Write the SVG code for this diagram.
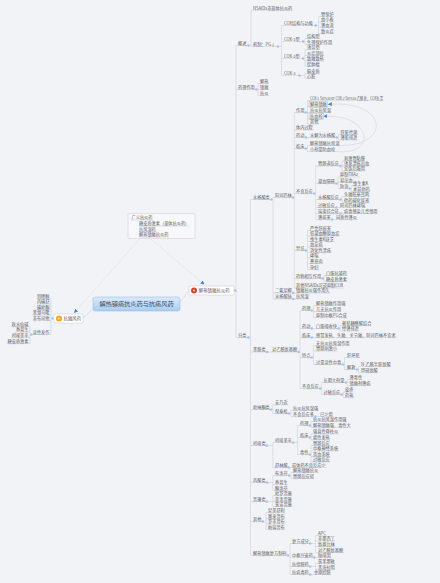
<svg xmlns="http://www.w3.org/2000/svg" xmlns:xlink="http://www.w3.org/1999/xlink" width="440" height="583" viewBox="0 0 440 583">
<defs>
<style>
text{font-family:"Noto Sans CJK SC","Noto Sans",sans-serif;font-size:4.2px;fill:#5a5a5a}
.u{stroke:#c3c7cf;stroke-width:.45;fill:none}
#connectors path{stroke:#c3c7cf;stroke-width:.45;fill:none}
.main{stroke:#b6bac4;stroke-width:.6;fill:none}
.rel{stroke:#4a90e2;stroke-width:.7;fill:none;stroke-dasharray:.9 .7}
.rel2{stroke:#5d9de4;stroke-width:.6;fill:none}
.tg{fill:#a6c5ec}
.lft text{text-anchor:end}
.hl{fill:none;stroke:#8fa3bd;stroke-width:.35}
</style>
<circle id="t" class="tg" r="1.3"/>
<marker id="ah" viewBox="0 0 6 6" refX="5" refY="3" markerWidth="4" markerHeight="4" orient="auto" markerUnits="userSpaceOnUse"><path d="M0 0L6 3L0 6z" fill="#3f86dc"/></marker>
<linearGradient id="cg" x1="0" y1="0" x2="0" y2="1"><stop offset="0" stop-color="#d9eafc"/><stop offset="1" stop-color="#a9cdf2"/></linearGradient>
</defs>
<rect width="440" height="583" fill="#f2f3f7"/>

<g id="connectors">
<path class="main" d="M180 302.5L189 290.5M93 309L83 318"/>
<path d="M234 290.5H236M236 45.5V337.5M236 45.5H238M236 89.5H238M236 337.5H238"/>
<path d="M246.5 45.5H251M251 10.5V46.5M251 10.5H253M251 46.5H253"/>
<path d="M275.5 46.5H281.5M281.5 25.5V75.5M281.5 25.5H284M281.5 41.5H284M281.5 58.5H284M281.5 75.5H284"/>
<path d="M313.5 25.5H318.5M318.5 16.5V33.5M318.5 16.5H321M318.5 22H321M318.5 27.5H321M318.5 33.5H321"/>
<path d="M301.2 41.5H305M305 38.5V44.5M305 38.5H307M305 44.5H307"/>
<path d="M301.2 58.5H305M305 49.5V66.5M305 49.5H307M305 55.5H307M305 61H307M305 66.5H307"/>
<path d="M297 75.5H305M305 73.5V78.5M305 73.5H307M305 78.5H307"/>
<path d="M254.8 89.5H258M258 83.5V95.5M258 83.5H260M258 89.5H260M258 95.5H260"/>
<path d="M246.4 337.5H250.5M250.5 199.5V555.5M250.5 199.5H253M250.5 352H253M250.5 409.5H253M250.5 445.5H253M250.5 482.5H253M250.5 501.5H253M250.5 521.5H253M250.5 555.5H253"/>
<path d="M269.8 199.5H273M273 197.5V299M273 197.5H275M273 293H275M273 299H275"/>
<path d="M291.8 197.5H294.3M294.3 112.5V288M294.3 112.5H296M294.3 130H296M294.3 137.5H296M294.3 148.5H296M294.3 193.5H296M294.3 250.5H296M294.3 278.5H296M294.3 288H296"/>
<path d="M304.4 112.5H307.5M307.5 100.5V124M307.5 100.5H310M307.5 106.5H310M307.5 112.5H310M307.5 118.5H310M307.5 124H310"/>
<path d="M304.4 137.5H310M335.2 137.5H338.5M338.5 134.5V140M338.5 134.5H340.5M338.5 140H340.5"/>
<path d="M304.4 148.5H307.5M307.5 145.5V151.5M307.5 145.5H310M307.5 151.5H310"/>
<path d="M312.8 193.5H315.7M315.7 166V219.5M315.7 166H318M315.7 183.5H318M315.7 199.5H318M315.7 207.5H318M315.7 213.5H318M315.7 219.5H318"/>
<path d="M339 166H342M342 161V171M342 161H344M342 166H344M342 171H344"/>
<path d="M334.8 183.5H338M338 177V188.5M338 177H340M338 182.5H340M338 188.5H340"/>
<path d="M348.4 188.5H351.3M351.3 186V191.5M351.3 186H353M351.3 191.5H353"/>
<path d="M339 199.5H342M342 196.5V202.5M342 196.5H344M342 202.5H344"/>
<path d="M334.8 207.5H340M339 213.5H344M330.6 219.5H336"/>
<path d="M304.4 250.5H307.5M307.5 230.5V269.5M307.5 230.5H310M307.5 236H310M307.5 241.5H310M307.5 247H310M307.5 252.5H310M307.5 258H310M307.5 263.5H310M307.5 269.5H310"/>
<path d="M321.2 278.5H324M324 275.5V281.5M324 275.5H326M324 281.5H326"/>
<path d="M291.8 293H296M291.8 299H296"/>
<path d="M265.6 352H272"/>
<path d="M297.2 352H300M300 310.5V388.5M300 310.5H302M300 328.5H302M300 337.5H302M300 357.5H302M300 388.5H302"/>
<path d="M310.4 310.5H313.5M313.5 305.5V317.5M313.5 305.5H316M313.5 311.5H316M313.5 317.5H316"/>
<path d="M310.4 328.5H316M337 328.5H340M340 325.5V331M340 325.5H342M340 331H342"/>
<path d="M310.4 337.5H316"/>
<path d="M310.4 357.5H313.5M313.5 345.5V364.5M313.5 345.5H316M313.5 351H316M313.5 364.5H316"/>
<path d="M341.2 364.5H344.5M344.5 357.5V369.5M344.5 357.5H347M344.5 369.5H347"/>
<path d="M355.4 369.5H358.5M358.5 366.5V372.5M358.5 366.5H361M358.5 372.5H361"/>
<path d="M318.8 388.5H321.7M321.7 382.5V394.5M321.7 382.5H323.5M321.7 394.5H323.5"/>
<path d="M344.5 382.5H347.5M347.5 379.5V385.5M347.5 379.5H349.5M347.5 385.5H349.5"/>
<path d="M340.3 394.5H343.2M343.2 392V397.5M343.2 392H345M343.2 397.5H345"/>
<path d="M269.8 409.5H272.8M272.8 404.5V413.5M272.8 404.5H275M272.8 413.5H275"/>
<path d="M287.6 413.5H291M291 410.5V416.5M291 410.5H293M291 416.5H293M314 416.5H320"/>
<path d="M265.6 445.5H272.8M272.8 442.5V467.5M272.8 442.5H275M272.8 467.5H275"/>
<path d="M291.8 442.5H297.5M297.5 425.5V454.5M297.5 425.5H300M297.5 437.5H300M297.5 454.5H300"/>
<path d="M308.4 425.5H311M311 421.5V427.5M311 421.5H313M311 427.5H313"/>
<path d="M308.4 437.5H311M311 434V440M311 434H313M311 440H313"/>
<path d="M308.4 454.5H311M311 445.5V462M311 445.5H313M311 451H313M311 456.5H313M311 462H313"/>
<path d="M287.6 467.5H292"/>
<path d="M265.6 482.5H272.8M272.8 475.5V490.5M272.8 475.5H275M272.8 484.5H275M272.8 490.5H275"/>
<path d="M287.6 475.5H291M291 472.5V478.5M291 472.5H293M291 478.5H293"/>
<path d="M265.6 501.5H272.8M272.8 495.5V506.5M272.8 495.5H275M272.8 501.5H275M272.8 506.5H275"/>
<path d="M261.4 521.5H266M266 512.5V529.5M266 512.5H268M266 518.5H268M266 524H268M266 529.5H268"/>
<path d="M286.6 555.5H290M290 543.5V574.5M290 543.5H292M290 557.5H292M290 566.5H292M290 574.5H292"/>
<path d="M308.8 543.5H315.5M315.5 535.5V552.5M315.5 535.5H318M315.5 541H318M315.5 546.5H318M315.5 552.5H318"/>
<path d="M313 557.5H318M308.8 566.5H315.5M315.5 563.5V569.5M315.5 563.5H318M315.5 569.5H318M308.8 574.5H314"/>
<path d="M54 318.5H51M51 298.5V334.5M51 298.5H49.5M51 304H49.5M51 309.5H49.5M51 315H49.5M51 320.5H49.5M51 334.5H49.5"/>
<path d="M32.2 334.5H30M30 326.5V343.5M30 326.5H28.5M30 332H28.5M30 337.5H28.5M30 343.5H28.5"/>
<path d="M133.5 220V237M133.5 226H139M133.5 231.5H139M133.5 237H139"/>
<path class="rel" d="M140 238.5L74.5 312.5" marker-end="url(#ah)"/>
<path class="rel" d="M150 238.5L204 284" marker-end="url(#ah)"/>
<path class="rel2" d="M340 145.5C392 146 388 100 328.5 104.3" marker-end="url(#ah)"/>
<path class="rel2" d="M336 151.5C378 156 372 114 324 116.3" marker-end="url(#ah)"/>
</g>

<g id="toggles">
<use href="#t" x="235.3" y="290.5"/><use href="#t" x="248.5" y="45.5"/><use href="#t" x="278" y="46.5"/><use href="#t" x="315.8" y="25.5"/>
<use href="#t" x="303" y="41.5"/><use href="#t" x="303" y="58.5"/><use href="#t" x="299.5" y="75.5"/><use href="#t" x="256.3" y="89.5"/>
<use href="#t" x="248.4" y="337.5"/><use href="#t" x="271.4" y="199.5"/><use href="#t" x="293" y="197.5"/><use href="#t" x="305.8" y="112.5"/>
<use href="#t" x="306" y="137.5"/><use href="#t" x="336.8" y="137.5"/><use href="#t" x="305.8" y="148.5"/><use href="#t" x="314.2" y="193.5"/>
<use href="#t" x="340.5" y="166"/><use href="#t" x="336.3" y="183.5"/><use href="#t" x="349.8" y="188.5"/><use href="#t" x="340.5" y="199.5"/>
<use href="#t" x="336.3" y="207.5"/><use href="#t" x="340.5" y="213.5"/><use href="#t" x="332.2" y="219.5"/><use href="#t" x="305.8" y="250.5"/>
<use href="#t" x="322.6" y="278.5"/><use href="#t" x="293.3" y="293"/><use href="#t" x="293.3" y="299"/><use href="#t" x="267.2" y="352"/>
<use href="#t" x="298.6" y="352"/><use href="#t" x="311.8" y="310.5"/><use href="#t" x="311.8" y="328.5"/><use href="#t" x="338.5" y="328.5"/>
<use href="#t" x="311.8" y="337.5"/><use href="#t" x="311.8" y="357.5"/><use href="#t" x="342.8" y="364.5"/><use href="#t" x="357" y="369.5"/>
<use href="#t" x="320.2" y="388.5"/><use href="#t" x="345.9" y="382.5"/><use href="#t" x="341.7" y="394.5"/>
<use href="#t" x="271.2" y="409.5"/><use href="#t" x="289" y="413.5"/><use href="#t" x="315.4" y="416.5"/><use href="#t" x="267" y="445.5"/>
<use href="#t" x="293.2" y="442.5"/><use href="#t" x="309.8" y="425.5"/><use href="#t" x="309.8" y="437.5"/><use href="#t" x="309.8" y="454.5"/>
<use href="#t" x="289" y="467.5"/><use href="#t" x="267" y="482.5"/><use href="#t" x="289" y="475.5"/><use href="#t" x="267" y="501.5"/>
<use href="#t" x="262.8" y="521.5"/><use href="#t" x="288" y="555.5"/><use href="#t" x="310.2" y="543.5"/><use href="#t" x="314.4" y="557.5"/>
<use href="#t" x="310.2" y="566.5"/><use href="#t" x="310.2" y="574.5"/><use href="#t" x="52.5" y="318.5"/><use href="#t" x="31.3" y="334.5"/>
</g>

<g id="central"><rect x="93" y="297" width="87" height="14" rx="2.5" fill="url(#cg)" stroke="#8db3dd" stroke-width=".5"/><text x="136.5" y="306.4" text-anchor="middle" style="font-size:6.2px;fill:#3d4b5e">解热镇痛抗炎药与抗痛风药</text></g>
<g id="node-jrzt"><rect x="189" y="286" width="45" height="9" rx="1.5" fill="#fff" stroke="#c4c6cc" stroke-width=".5"/><circle cx="194" cy="290.5" r="3" fill="#d8432f"/><circle cx="194" cy="290.5" r="1.1" fill="#f6c4bd"/><text x="198.8" y="292.1" style="font-size:4.4px">解热镇痛抗炎药</text></g>
<g id="node-ktfy"><rect x="54" y="314" width="29" height="9" rx="1.5" fill="#fff" stroke="#c4c6cc" stroke-width=".5"/><circle cx="59" cy="318.5" r="3" fill="#f2a81d"/><circle cx="59" cy="318.5" r="1.1" fill="#fbe0a6"/><text x="63.5" y="320.1" style="font-size:4.4px">抗痛风药</text></g>

<g id="node-gyky"><rect x="128" y="213.5" width="67" height="25" rx="1" fill="#f8f8fa" stroke="#c8cad0" stroke-width=".5"/><text x="131.5" y="219">广义抗炎药</text><path class="u" d="M131 220h22"/>
<text x="139" y="225">糖皮质激素（甾体抗炎药）</text><path class="u" d="M138.5 226h51.4"/>
<text x="139" y="230.5">抗风湿药</text><path class="u" d="M138.5 231.5h17.8"/>
<text x="139" y="236">解热镇痛抗炎药</text><path class="u" d="M138.5 237h30.4"/></g>

<g id="n-gs"><text x="238" y="44.5">概述</text><path class="u" d="M237.5 45.5h9.4"/></g>
<g id="n-ns"><text x="253" y="9.5">NSAIDs非甾体抗炎药</text><path class="u" d="M252.5 10.5h37.6"/></g>
<g id="n-jz"><text x="253" y="45.5">机制：PG↓</text><path class="u" d="M252.5 46.5h23.4"/></g>
<g id="n-cox"><text x="284" y="24.5">COX结构与功能</text><path class="u" d="M283.5 25.5h30.4"/></g>
<g id="n-cox-a"><text x="321" y="15.5">胃保护</text><path class="u" d="M320.5 16.5h13.6"/></g>
<g id="n-cox-b"><text x="321" y="21">血小板</text><path class="u" d="M320.5 22h13.6"/></g>
<g id="n-cox-c"><text x="321" y="26.5">肾血流</text><path class="u" d="M320.5 27.5h13.6"/></g>
<g id="n-cox-d"><text x="321" y="32.5">致炎症</text><path class="u" d="M320.5 33.5h13.6"/></g>
<g id="n-c1"><text x="284" y="40.5">COX-1型</text><path class="u" d="M283.5 41.5h18.2"/></g>
<g id="n-c1a"><text x="307" y="37.5">结构型</text><path class="u" d="M306.5 38.5h13.6"/></g>
<g id="n-c1b"><text x="307" y="43.5">生理保护作用</text><path class="u" d="M306.5 44.5h26.2"/></g>
<g id="n-c2"><text x="284" y="57.5">COX-2型</text><path class="u" d="M283.5 58.5h18.2"/></g>
<g id="n-c2a"><text x="307" y="48.5">诱导型</text><path class="u" d="M306.5 49.5h13.6"/></g>
<g id="n-c2b"><text x="307" y="54.5">炎症部位</text><path class="u" d="M306.5 55.5h17.8"/></g>
<g id="n-c2c"><text x="307" y="60">致痛致热</text><path class="u" d="M306.5 61h17.8"/></g>
<g id="n-c2d"><text x="307" y="65.5">促肿瘤</text><path class="u" d="M306.5 66.5h13.6"/></g>
<g id="n-c3"><text x="284" y="74.5">COX-3</text><path class="u" d="M283.5 75.5h14"/></g>
<g id="n-c3a"><text x="307" y="72.5">脑皮质</text><path class="u" d="M306.5 73.5h13.6"/></g>
<g id="n-c3b"><text x="307" y="77.5">心脏</text><path class="u" d="M306.5 78.5h9.4"/></g>
<g id="n-yl"><text x="238" y="88.5">药理作用</text><path class="u" d="M237.5 89.5h17.8"/></g>
<g id="n-yl1"><text x="260" y="82.5">解热</text><path class="u" d="M259.5 83.5h9.4"/></g>
<g id="n-yl2"><text x="260" y="88.5">镇痛</text><path class="u" d="M259.5 89.5h9.4"/></g>
<g id="n-yl3"><text x="260" y="94.5">抗炎</text><path class="u" d="M259.5 95.5h9.4"/></g>
<g id="n-fl"><text x="238" y="336.5">分类</text><path class="u" d="M237.5 337.5h9.4"/></g>

<g id="n-syl"><text x="253" y="198.5">水杨酸类</text><path class="u" d="M252.5 199.5h17.8"/></g>
<g id="n-asp"><text x="275" y="196.5">阿司匹林</text><path class="u" d="M274.5 197.5h17.8"/></g>
<g id="n-asp-zy"><text x="296" y="111.5">作用</text><path class="u" d="M295.5 112.5h9.4"/></g>
<g id="n-zy1"><text x="310" y="99.5" textLength="73" lengthAdjust="spacingAndGlyphs">COX-1 Ser530 or COX-2 Ser516 乙酰化，COX失活</text><path class="u" d="M309.5 100.5h74"/></g>
<g id="n-zy2"><rect class="hl" x="309" y="101.6" width="18.8" height="5.6"/><text x="310" y="105.5">解热镇痛</text><path class="u" d="M309.5 106.5h17.8"/></g>
<g id="n-zy3"><text x="310" y="111.5">抗炎抗风湿</text><path class="u" d="M309.5 112.5h22"/></g>
<g id="n-zy4"><rect class="hl" x="309" y="113.6" width="14.6" height="5.6"/><text x="310" y="117.5">抗血栓</text><path class="u" d="M309.5 118.5h13.6"/></g>
<g id="n-zy5"><text x="310" y="123">其他</text><path class="u" d="M309.5 124h9.4"/></g>
<g id="n-asp-tn"><text x="296" y="129">体内过程</text><path class="u" d="M295.5 130h17.8"/></g>
<g id="n-asp-yd"><text x="296" y="136.5">药动</text><path class="u" d="M295.5 137.5h9.4"/></g>
<g id="n-sj"><text x="310" y="136.5">水解为水杨酸</text><path class="u" d="M309.5 137.5h26.2"/></g>
<g id="n-sj1"><text x="340.5" y="133.5">肝脏代谢</text><path class="u" d="M340 134.5h17.8"/></g>
<g id="n-sj2"><text x="340.5" y="139">肾脏排泄</text><path class="u" d="M340 140h17.8"/></g>
<g id="n-asp-lc"><text x="296" y="147.5">临床</text><path class="u" d="M295.5 148.5h9.4"/></g>
<g id="n-lc1"><text x="310" y="144.5">解热镇痛抗风湿</text><path class="u" d="M309.5 145.5h30.4"/></g>
<g id="n-lc2"><text x="310" y="150.5">小剂量防血栓</text><path class="u" d="M309.5 151.5h26.2"/></g>
<g id="n-asp-bl"><text x="296" y="192.5">不良反应</text><path class="u" d="M295.5 193.5h17.8"/></g>
<g id="n-wc"><text x="318" y="165">胃肠道反应</text><path class="u" d="M317.5 166h22"/></g>
<g id="n-wc1"><text x="344" y="160">刺激胃黏膜</text><path class="u" d="M343.5 161h22"/></g>
<g id="n-wc2"><text x="344" y="165">诱发溃疡出血</text><path class="u" d="M343.5 166h26.2"/></g>
<g id="n-wc3"><text x="344" y="170">宜饭后服用</text><path class="u" d="M343.5 171h22"/></g>
<g id="n-nx"><text x="318" y="182.5">凝血障碍</text><path class="u" d="M317.5 183.5h17.8"/></g>
<g id="n-nx1"><text x="340" y="176">抑制TXA2</text><path class="u" d="M339.5 177h20.4"/></g>
<g id="n-nx2"><text x="340" y="181.5">易出血</text><path class="u" d="M339.5 182.5h13.6"/></g>
<g id="n-nx3"><text x="340" y="187.5">防治</text><path class="u" d="M339.5 188.5h9.4"/></g>
<g id="n-fz1"><text x="353" y="185">维生素K</text><path class="u" d="M352.5 186h16.4"/></g>
<g id="n-fz2"><text x="353" y="190.5">术前停药</text><path class="u" d="M352.5 191.5h17.8"/></g>
<g id="n-syf"><text x="318" y="198.5">水杨酸反应</text><path class="u" d="M317.5 199.5h22"/></g>
<g id="n-syf1"><text x="344" y="195.5">头痛眩晕耳鸣</text><path class="u" d="M343.5 196.5h26.2"/></g>
<g id="n-syf2"><text x="344" y="201.5">停药碱化尿液</text><path class="u" d="M343.5 202.5h26.2"/></g>
<g id="n-gm"><text x="318" y="206.5">过敏反应</text><path class="u" d="M317.5 207.5h17.8"/></g>
<g id="n-gm1"><text x="340" y="206.5">阿司匹林哮喘</text><path class="u" d="M339.5 207.5h26.2"/></g>
<g id="n-ry"><text x="318" y="212.5">瑞夷综合征</text><path class="u" d="M317.5 213.5h22"/></g>
<g id="n-ry1"><text x="344" y="212.5">病毒感染儿童慎用</text><path class="u" d="M343.5 213.5h34.6"/></g>
<g id="n-sh"><text x="318" y="218.5">肾损害</text><path class="u" d="M317.5 219.5h13.6"/></g>
<g id="n-sh1"><text x="336" y="218.5">间质性肾炎</text><path class="u" d="M335.5 219.5h22"/></g>
<g id="n-asp-jj"><text x="296" y="249.5">禁忌</text><path class="u" d="M295.5 250.5h9.4"/></g>
<g id="n-jj1"><text x="310" y="229.5">严重肝损害</text><path class="u" d="M309.5 230.5h22"/></g>
<g id="n-jj2"><text x="310" y="235">低凝血酶原血症</text><path class="u" d="M309.5 236h30.4"/></g>
<g id="n-jj3"><text x="310" y="240.5">维生素K缺乏</text><path class="u" d="M309.5 241.5h24.8"/></g>
<g id="n-jj4"><text x="310" y="246">血友病</text><path class="u" d="M309.5 247h13.6"/></g>
<g id="n-jj5"><text x="310" y="251.5">消化性溃疡</text><path class="u" d="M309.5 252.5h22"/></g>
<g id="n-jj6"><text x="310" y="257">哮喘</text><path class="u" d="M309.5 258h9.4"/></g>
<g id="n-jj7"><text x="310" y="262.5">鼻息肉</text><path class="u" d="M309.5 263.5h13.6"/></g>
<g id="n-jj8"><text x="310" y="268.5">孕妇</text><path class="u" d="M309.5 269.5h9.4"/></g>
<g id="n-asp-xh"><text x="296" y="277.5">药物相互作用</text><path class="u" d="M295.5 278.5h26.2"/></g>
<g id="n-xh1"><text x="326" y="274.5">口服抗凝药</text><path class="u" d="M325.5 275.5h22"/></g>
<g id="n-xh2"><text x="326" y="280.5">糖皮质激素</text><path class="u" d="M325.5 281.5h22"/></g>
<g id="n-asp-qt"><text x="296" y="287">其他NSAIDs可逆抑制COX</text><path class="u" d="M295.5 288h49"/></g>
<g id="n-efn"><text x="275" y="292">二氟尼柳</text><path class="u" d="M274.5 293h17.8"/></g>
<g id="n-efn1"><text x="296" y="292">镇痛抗炎强作用久</text><path class="u" d="M295.5 293h34.6"/></g>
<g id="n-sys"><text x="275" y="298">水杨酸钠</text><path class="u" d="M274.5 299h17.8"/></g>
<g id="n-sys1"><text x="296" y="298">抗风湿</text><path class="u" d="M295.5 299h13.6"/></g>

<g id="n-ba"><text x="253" y="351">苯胺类</text><path class="u" d="M252.5 352h13.6"/></g>
<g id="n-dy"><text x="272" y="351">对乙酰氨基酚</text><path class="u" d="M271.5 352h26.2"/></g>
<g id="n-dy-yl"><text x="302" y="309.5">药理</text><path class="u" d="M301.5 310.5h9.4"/></g>
<g id="n-dyl1"><text x="316" y="304.5">解热镇痛作用强</text><path class="u" d="M315.5 305.5h30.4"/></g>
<g id="n-dyl2"><text x="316" y="310.5">几无抗炎作用</text><path class="u" d="M315.5 311.5h26.2"/></g>
<g id="n-dyl3"><text x="316" y="316.5">抑制中枢PG合成</text><path class="u" d="M315.5 317.5h31.8"/></g>
<g id="n-dy-yd"><text x="302" y="327.5">药动</text><path class="u" d="M301.5 328.5h9.4"/></g>
<g id="n-kf"><text x="316" y="327.5">口服吸收快</text><path class="u" d="M315.5 328.5h22"/></g>
<g id="n-kf1"><text x="342" y="324.5">葡萄糖醛酸结合</text><path class="u" d="M341.5 325.5h30.4"/></g>
<g id="n-kf2"><text x="342" y="330">经肾排泄</text><path class="u" d="M341.5 331h17.8"/></g>
<g id="n-dy-lc"><text x="302" y="336.5">临床</text><path class="u" d="M301.5 337.5h9.4"/></g>
<g id="n-dylc1"><text x="316" y="336.5">感冒发热、头痛、关节痛，阿司匹林不宜者</text><path class="u" d="M315.5 337.5h80.8"/></g>
<g id="n-dy-td"><text x="302" y="356.5">特点</text><path class="u" d="M301.5 357.5h9.4"/></g>
<g id="n-td1"><text x="316" y="344.5">无抗炎抗风湿作用</text><path class="u" d="M315.5 345.5h34.6"/></g>
<g id="n-td2"><text x="316" y="350">胃肠刺激小</text><path class="u" d="M315.5 351h22"/></g>
<g id="n-td3"><text x="316" y="363.5">过量急性中毒</text><path class="u" d="M315.5 364.5h26.2"/></g>
<g id="n-zd1"><text x="347" y="356.5">肝坏死</text><path class="u" d="M346.5 357.5h13.6"/></g>
<g id="n-zd2"><text x="347" y="368.5">解救</text><path class="u" d="M346.5 369.5h9.4"/></g>
<g id="n-jiu1"><text x="361" y="365.5">N-乙酰半胱氨酸</text><path class="u" d="M360.5 366.5h27"/></g>
<g id="n-jiu2"><text x="361" y="371.5">甲硫氨酸</text><path class="u" d="M360.5 372.5h17.8"/></g>
<g id="n-dy-bl"><text x="302" y="387.5">不良反应</text><path class="u" d="M301.5 388.5h17.8"/></g>
<g id="n-dbl1"><text x="323.5" y="381.5">长期大剂量</text><path class="u" d="M323 382.5h22"/></g>
<g id="n-dbl1a"><text x="349.5" y="378.5">肾毒性</text><path class="u" d="M349 379.5h13.6"/></g>
<g id="n-dbl1b"><text x="349.5" y="384.5">镇痛剂肾病</text><path class="u" d="M349 385.5h22"/></g>
<g id="n-dbl2"><text x="323.5" y="393.5">过敏反应</text><path class="u" d="M323 394.5h17.8"/></g>
<g id="n-dbl2a"><text x="345" y="391">皮疹</text><path class="u" d="M344.5 392h9.4"/></g>
<g id="n-dbl2b"><text x="345" y="396.5">药热</text><path class="u" d="M344.5 397.5h9.4"/></g>

<g id="n-pz"><text x="253" y="408.5">吡唑酮类</text><path class="u" d="M252.5 409.5h17.8"/></g>
<g id="n-anj"><text x="275" y="403.5">安乃近</text><path class="u" d="M274.5 404.5h13.6"/></g>
<g id="n-bts"><text x="275" y="412.5">保泰松</text><path class="u" d="M274.5 413.5h13.6"/></g>
<g id="n-bts1"><text x="293" y="409.5">抗炎抗风湿强</text><path class="u" d="M292.5 410.5h26.2"/></g>
<g id="n-bts2"><text x="293" y="415.5">不良反应多</text><path class="u" d="M292.5 416.5h22"/></g>
<g id="n-bts3"><text x="320" y="415.5">已少用</text><path class="u" d="M319.5 416.5h13.6"/></g>
<g id="n-yd"><text x="253" y="444.5">吲哚类</text><path class="u" d="M252.5 445.5h13.6"/></g>
<g id="n-ydm"><text x="275" y="441.5">吲哚美辛</text><path class="u" d="M274.5 442.5h17.8"/></g>
<g id="n-ydm-yl"><text x="300" y="424.5">药理</text><path class="u" d="M299.5 425.5h9.4"/></g>
<g id="n-ydmyl1"><text x="313" y="420.5">抗炎抗风湿作用强</text><path class="u" d="M312.5 421.5h30.4"/></g>
<g id="n-ydmyl2"><text x="313" y="426.5">解热镇痛强、毒性大</text><path class="u" d="M312.5 427.5h34.6"/></g>
<g id="n-ydm-lc"><text x="300" y="436.5">临床</text><path class="u" d="M299.5 437.5h9.4"/></g>
<g id="n-ydmlc1"><text x="313" y="433">强直性脊柱炎</text><path class="u" d="M312.5 434h26.2"/></g>
<g id="n-ydmlc2"><text x="313" y="439">癌性发热</text><path class="u" d="M312.5 440h17.8"/></g>
<g id="n-ydm-dx"><text x="300" y="453.5">毒性</text><path class="u" d="M299.5 454.5h9.4"/></g>
<g id="n-dx1"><text x="313" y="444.5">胃肠反应</text><path class="u" d="M312.5 445.5h17.8"/></g>
<g id="n-dx2"><text x="313" y="450">中枢神经系统</text><path class="u" d="M312.5 451h26.2"/></g>
<g id="n-dx3"><text x="313" y="455.5">造血系统</text><path class="u" d="M312.5 456.5h17.8"/></g>
<g id="n-dx4"><text x="313" y="461">过敏反应</text><path class="u" d="M312.5 462h17.8"/></g>
<g id="n-slx"><text x="275" y="466.5">舒林酸</text><path class="u" d="M274.5 467.5h13.6"/></g>
<g id="n-slx1"><text x="292" y="466.5">前体药不良反应少</text><path class="u" d="M291.5 467.5h34.6"/></g>
<g id="n-bs"><text x="253" y="481.5">丙酸类</text><path class="u" d="M252.5 482.5h13.6"/></g>
<g id="n-blf"><text x="275" y="474.5">布洛芬</text><path class="u" d="M274.5 475.5h13.6"/></g>
<g id="n-blf1"><text x="293" y="471.5">解热镇痛抗炎</text><path class="u" d="M292.5 472.5h26.2"/></g>
<g id="n-blf2"><text x="293" y="477.5">胃肠反应轻</text><path class="u" d="M292.5 478.5h22"/></g>
<g id="n-npz"><text x="275" y="483.5">萘普生</text><path class="u" d="M274.5 484.5h13.6"/></g>
<g id="n-tlf"><text x="275" y="489.5">酮洛芬</text><path class="u" d="M274.5 490.5h13.6"/></g>
<g id="n-xk"><text x="253" y="500.5">昔康类</text><path class="u" d="M252.5 501.5h13.6"/></g>
<g id="n-xk1"><text x="275" y="494.5">吡罗昔康</text><path class="u" d="M274.5 495.5h17.8"/></g>
<g id="n-xk2"><text x="275" y="500.5">美洛昔康</text><path class="u" d="M274.5 501.5h17.8"/></g>
<g id="n-xk3"><text x="275" y="505.5">氯诺昔康</text><path class="u" d="M274.5 506.5h17.8"/></g>
<g id="n-qt"><text x="253" y="520.5">其他</text><path class="u" d="M252.5 521.5h9.4"/></g>
<g id="n-qt1"><text x="268" y="511.5">尼美舒利</text><path class="u" d="M267.5 512.5h17.8"/></g>
<g id="n-qt2"><text x="268" y="517.5">塞来昔布</text><path class="u" d="M267.5 518.5h17.8"/></g>
<g id="n-qt3"><text x="268" y="523">罗非昔布</text><path class="u" d="M267.5 524h17.8"/></g>
<g id="n-qt4"><text x="268" y="528.5">帕瑞昔布</text><path class="u" d="M267.5 529.5h17.8"/></g>
<g id="n-ff"><text x="253" y="554.5">解热镇痛复方制剂</text><path class="u" d="M252.5 555.5h34.6"/></g>
<g id="n-ffcf"><text x="292" y="542.5">复方成分</text><path class="u" d="M291.5 543.5h17.8"/></g>
<g id="n-cf1"><text x="318" y="534.5">APC</text><path class="u" d="M317.5 535.5h9"/></g>
<g id="n-cf2"><text x="318" y="540">非那西丁</text><path class="u" d="M317.5 541h17.8"/></g>
<g id="n-cf3"><text x="318" y="545.5">氨基比林</text><path class="u" d="M317.5 546.5h17.8"/></g>
<g id="n-cf4"><text x="318" y="551.5">对乙酰氨基酚</text><path class="u" d="M317.5 552.5h26.2"/></g>
<g id="n-zs"><text x="292" y="556.5">中枢兴奋药</text><path class="u" d="M291.5 557.5h22"/></g>
<g id="n-zs1"><text x="318" y="556.5">咖啡因</text><path class="u" d="M317.5 557.5h13.6"/></g>
<g id="n-kz"><text x="292" y="565.5">抗组胺药</text><path class="u" d="M291.5 566.5h17.8"/></g>
<g id="n-kz1"><text x="318" y="562.5">氯苯那敏</text><path class="u" d="M317.5 563.5h17.8"/></g>
<g id="n-kz2"><text x="318" y="568.5">苯海拉明</text><path class="u" d="M317.5 569.5h17.8"/></g>
<g id="n-kb"><text x="292" y="573.5">抗病毒药</text><path class="u" d="M291.5 574.5h17.8"/></g>
<g id="n-kb1"><text x="314" y="573.5">金刚烷胺</text><path class="u" d="M313.5 574.5h17.8"/></g>

<g class="lft">
<g id="n-bpc"><text x="49.5" y="297.5">别嘌醇</text><path class="u" d="M36.4 298.5h13.6"/></g>
<g id="n-bhs"><text x="49.5" y="303">丙磺舒</text><path class="u" d="M36.4 304h13.6"/></g>
<g id="n-hbt"><text x="49.5" y="308.5">磺吡酮</text><path class="u" d="M36.4 309.5h13.6"/></g>
<g id="n-bxml"><text x="49.5" y="314">苯溴马隆</text><path class="u" d="M32.2 315h17.8"/></g>
<g id="n-fbst"><text x="49.5" y="319.5">非布司他</text><path class="u" d="M32.2 320.5h17.8"/></g>
<g id="n-jxfz"><text x="49.5" y="333.5">急性发作</text><path class="u" d="M32.2 334.5h17.8"/></g>
<g id="n-qsxj"><text x="28.5" y="325.5">秋水仙碱</text><path class="u" d="M11.2 326.5h17.8"/></g>
<g id="n-nps"><text x="28.5" y="331">萘普生</text><path class="u" d="M15.4 332h13.6"/></g>
<g id="n-ydmx"><text x="28.5" y="336.5">吲哚美辛</text><path class="u" d="M11.2 337.5h17.8"/></g>
<g id="n-tpz"><text x="28.5" y="342.5">糖皮质激素</text><path class="u" d="M7 343.5h22"/></g>
</g>
</svg>
